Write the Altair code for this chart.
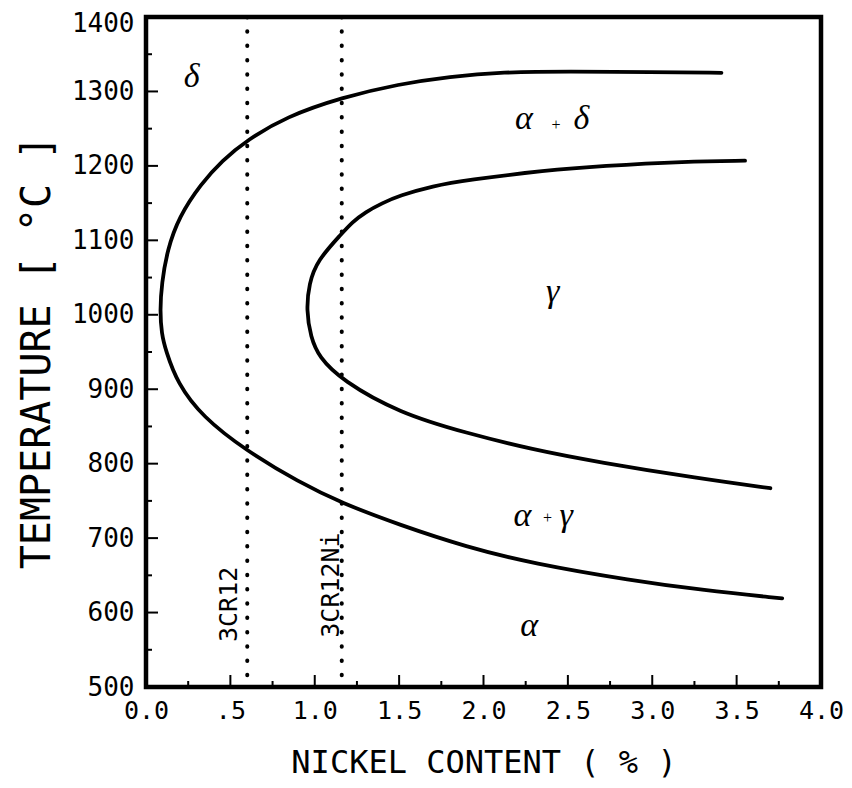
import altair as alt
import pandas as pd

# ---- data ----
# outer boundary (delta / alpha+delta upper, alpha lower), in path order
outer_ni = [3.41, 3.00, 2.50, 2.11, 1.80, 1.50, 1.16, 0.83, 0.60, 0.45, 0.326, 0.196,
            0.126, 0.093, 0.083, 0.092, 0.117, 0.186, 0.334, 0.59, 0.907, 1.16, 1.50,
            1.90, 2.29, 2.88, 3.30, 3.77]
outer_t = [1325, 1326, 1327, 1326, 1320, 1310, 1292, 1266, 1235, 1207, 1176, 1132,
           1087, 1042, 1006, 975, 952, 908, 863, 818, 775, 747, 718,
           688, 666, 643, 630, 619]
# inner boundary (gamma loop), in path order
inner_ni = [3.55, 3.20, 2.70, 2.37, 1.90, 1.70, 1.50, 1.40, 1.30, 1.22, 1.16, 1.015,
            0.966, 0.950, 0.976, 1.025, 1.16, 1.50, 1.90, 2.29, 2.68, 3.28, 3.70]
inner_t = [1207, 1206, 1200, 1194, 1181, 1173, 1160, 1150, 1138, 1124, 1109, 1073,
           1042, 1006, 970, 943, 912, 868, 841, 819, 802, 780, 767]

# steel grades (dotted verticals)
grade_names = ["3CR12", "3CR12Ni"]
grade_ni = [0.60, 1.16]
grade_label_ni = [0.49, 1.095]
grade_label_t = [611, 637]

# phase labels
phase_text = ["δ", "α", "δ", "γ", "α", "γ", "α"]
phase_ni = [0.27, 2.24, 2.58, 2.41, 2.23, 2.49, 2.27]
phase_t = [1306, 1249, 1249, 1017, 716, 716, 568]
plus_ni = [2.43, 2.38]
plus_t = [1255, 727]

# axis ticks
x_tick_labels = [0.0, 0.5, 1.0, 1.5, 2.0, 2.5, 3.0, 3.5, 4.0]
y_tick_labels = [500, 600, 700, 800, 900, 1000, 1100, 1200, 1300, 1400]
x_major = [0.5, 1.0, 1.5, 2.0, 2.5, 3.0, 3.5]
x_minor = [0.25, 0.75, 1.25, 1.75, 2.25, 2.75, 3.25, 3.75]
y_major = [600, 700, 800, 900, 1000, 1100, 1200, 1300]
y_minor = [550, 650, 750, 850, 950, 1050, 1150, 1250, 1350]

W, H = 675, 670
MONO = "DejaVu Sans Mono"
SERIF = "Liberation Serif"

curves = pd.concat([
    pd.DataFrame({"ni": outer_ni, "t": outer_t, "curve": "outer", "o": range(len(outer_ni))}),
    pd.DataFrame({"ni": inner_ni, "t": inner_t, "curve": "inner", "o": range(len(inner_ni))}),
])

xs = alt.Scale(domain=[0, 4], nice=False, zero=False)
ys = alt.Scale(domain=[500, 1400], nice=False, zero=False)

x_axis = alt.Axis(
    values=x_tick_labels, labelExpr="datum.value == 0.5 ? '.5' : format(datum.value, '.1f')",
    ticks=False, tickSize=0, domain=False, grid=False, labelFont=MONO, labelFontSize=25,
    labelColor="black", labelPadding=11, labelFlush=False, labelOverlap=False, labelBound=False,
    title="NICKEL CONTENT ( % )", titleFont=MONO, titleFontSize=32, titleFontWeight="normal",
    titleColor="black", titleX=W / 2, titleY=75, titleAlign="center", titleBaseline="middle",
)
y_axis = alt.Axis(
    values=y_tick_labels, format="d", ticks=False, tickSize=0, domain=False, grid=False,
    labelFont=MONO, labelFontSize=26, labelColor="black", labelPadding=12,
    labelFlush=False, labelOverlap=False, labelBound=False,
    labelOffset={"condition": {"test": "datum.value == 1400", "value": 6}, "value": 0},
    title="TEMPERATURE [ °C ]", titleFont=MONO, titleFontSize=40, titleFontWeight="normal",
    titleColor="black", titleX=-109, titleY=H / 2, titleAngle=270, titleAlign="center",
    titleBaseline="middle",
)

lines = alt.Chart(curves).mark_line(
    color="black", strokeWidth=3.8, interpolate="basis", strokeCap="round"
).encode(
    x=alt.X("ni:Q", scale=xs, axis=x_axis),
    y=alt.Y("t:Q", scale=ys, axis=y_axis),
    detail="curve:N",
    order="o:Q",
)

grades = pd.DataFrame({"name": grade_names, "ni": grade_ni, "lx": grade_label_ni, "ly": grade_label_t})
dots = alt.Chart(grades).mark_rule(
    color="black", strokeWidth=4, strokeDash=[0.5, 13.8], strokeCap="round"
).encode(x=alt.X("ni:Q", scale=xs))
grade_txt = alt.Chart(grades).mark_text(
    font=MONO, fontSize=25, angle=270, align="center", baseline="middle", color="black"
).encode(x=alt.X("lx:Q", scale=xs), y=alt.Y("ly:Q", scale=ys), text="name:N")

phases = pd.DataFrame({"txt": phase_text, "ni": phase_ni, "t": phase_t})
phase_txt = alt.Chart(phases).mark_text(
    font=SERIF, fontStyle="italic", fontSize=34, align="center", baseline="alphabetic", color="black"
).encode(x=alt.X("ni:Q", scale=xs), y=alt.Y("t:Q", scale=ys), text="txt:N")

pluses = pd.DataFrame({"txt": ["+", "+"], "ni": plus_ni, "t": plus_t})
plus_txt = alt.Chart(pluses).mark_text(
    font=SERIF, fontSize=16, align="center", baseline="middle", color="black"
).encode(x=alt.X("ni:Q", scale=xs), y=alt.Y("t:Q", scale=ys), text="txt:N")

xmaj = alt.Chart(pd.DataFrame({"v": x_major})).mark_rule(color="black", strokeWidth=2).encode(
    x=alt.X("v:Q", scale=xs), y=alt.value(H), y2=alt.value(H - 12))
xmin = alt.Chart(pd.DataFrame({"v": x_minor})).mark_rule(color="black", strokeWidth=2).encode(
    x=alt.X("v:Q", scale=xs), y=alt.value(H), y2=alt.value(H - 6))
ymaj = alt.Chart(pd.DataFrame({"v": y_major})).mark_rule(color="black", strokeWidth=2).encode(
    y=alt.Y("v:Q", scale=ys), x=alt.value(0), x2=alt.value(12))
ymin = alt.Chart(pd.DataFrame({"v": y_minor})).mark_rule(color="black", strokeWidth=2).encode(
    y=alt.Y("v:Q", scale=ys), x=alt.value(0), x2=alt.value(6))

chart = alt.layer(
    lines, dots, grade_txt, phase_txt, plus_txt, xmaj, xmin, ymaj, ymin
).properties(
    width=W, height=H,
    autosize=alt.AutoSizeParams(type="none"),
    padding={"left": 138, "top": 9, "right": 23, "bottom": 93},
    background="white",
).configure_view(
    stroke="black", strokeWidth=4.5
)

chart.save("out.html", embed_options={"renderer": "svg", "actions": False})
